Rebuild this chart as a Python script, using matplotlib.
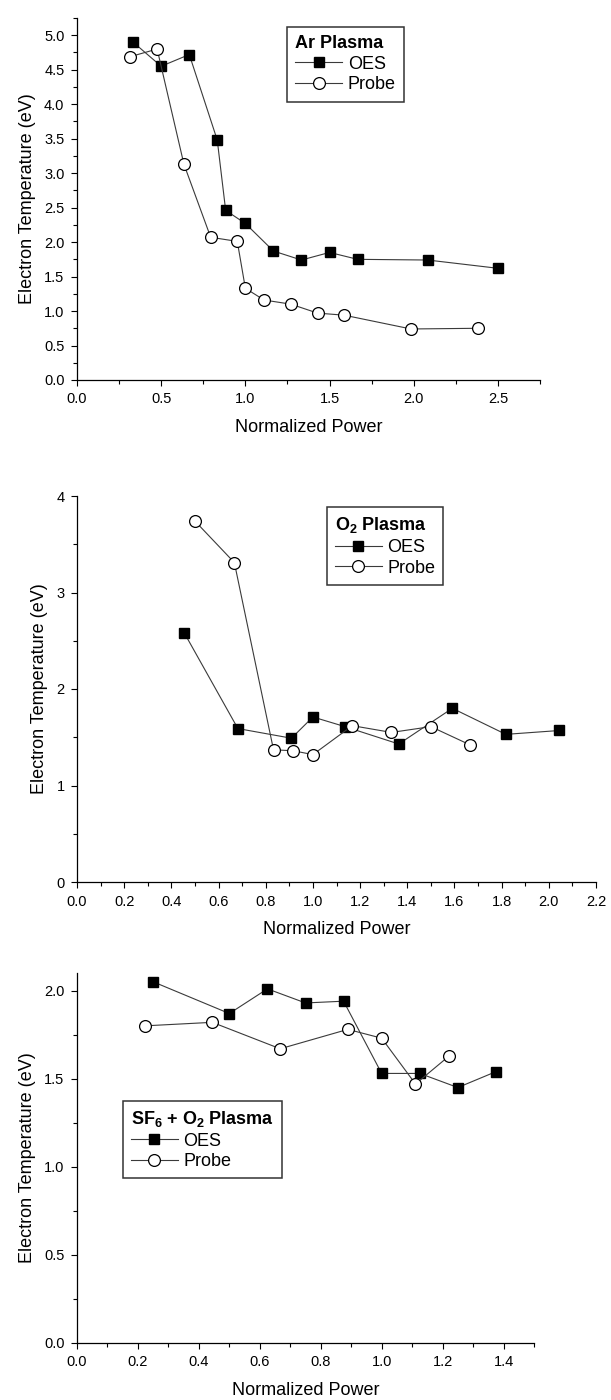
import numpy as np
import matplotlib
matplotlib.use("Agg")
import matplotlib.pyplot as plt
from matplotlib.ticker import MultipleLocator, FormatStrFormatter

plt.rcParams['font.family'] = ['Liberation Sans', 'DejaVu Sans']
plt.rcParams['mathtext.fontset'] = 'custom'
plt.rcParams['mathtext.rm'] = 'Liberation Sans'
plt.rcParams['mathtext.bf'] = 'Liberation Sans:bold'

# Ar plasma
ar_oes_x = [0.333, 0.5, 0.667, 0.833, 0.883, 1.0, 1.167, 1.333, 1.5, 1.667, 2.083, 2.5]
ar_oes_y = [4.90, 4.55, 4.72, 3.48, 2.46, 2.27, 1.87, 1.74, 1.85, 1.75, 1.74, 1.62]
ar_probe_x = [0.317, 0.476, 0.635, 0.794, 0.952, 1.0, 1.111, 1.270, 1.429, 1.587, 1.984, 2.381]
ar_probe_y = [4.69, 4.80, 3.13, 2.07, 2.01, 1.33, 1.16, 1.10, 0.97, 0.94, 0.74, 0.75]

# O2 plasma
o2_oes_x = [0.455, 0.682, 0.909, 1.0, 1.136, 1.364, 1.591, 1.818, 2.045]
o2_oes_y = [2.58, 1.59, 1.49, 1.71, 1.61, 1.43, 1.80, 1.53, 1.57]
o2_probe_x = [0.5, 0.667, 0.833, 0.917, 1.0, 1.167, 1.333, 1.5, 1.667]
o2_probe_y = [3.74, 3.31, 1.37, 1.36, 1.32, 1.62, 1.55, 1.61, 1.42]

# SF6 + O2 plasma
sf_oes_x = [0.25, 0.5, 0.625, 0.75, 0.875, 1.0, 1.125, 1.25, 1.375]
sf_oes_y = [2.05, 1.87, 2.01, 1.93, 1.94, 1.53, 1.53, 1.45, 1.54]
sf_probe_x = [0.222, 0.444, 0.667, 0.889, 1.0, 1.111, 1.222]
sf_probe_y = [1.80, 1.82, 1.67, 1.78, 1.73, 1.47, 1.63]

W, H = 611, 1400
fig = plt.figure(figsize=(W / 100, H / 100), dpi=100)


def px_axes(left, top, right, bottom):
    # axes from pixel box (origin top-left)
    return fig.add_axes([left / W, 1 - bottom / H, (right - left) / W, (bottom - top) / H])


def draw_panel(ax, oes_x, oes_y, probe_x, probe_y, title, xlim, ylim,
               xmaj, xmin, ymaj, ymin, xfmt, yfmt, leg_xy):
    ax.plot(oes_x, oes_y, '-', color='#3a3a3a', lw=0.8, marker='s', ms=7,
            mfc='black', mec='black', label='OES', zorder=3)
    ax.plot(probe_x, probe_y, '-', color='#3a3a3a', lw=0.8, marker='o', ms=8.5,
            mfc='white', mec='black', mew=0.9, label='Probe', zorder=3)
    ax.set_xlim(*xlim)
    ax.set_ylim(*ylim)
    ax.xaxis.set_major_locator(MultipleLocator(xmaj))
    ax.xaxis.set_minor_locator(MultipleLocator(xmin))
    ax.yaxis.set_major_locator(MultipleLocator(ymaj))
    ax.yaxis.set_minor_locator(MultipleLocator(ymin))
    ax.xaxis.set_major_formatter(FormatStrFormatter(xfmt))
    ax.yaxis.set_major_formatter(FormatStrFormatter(yfmt))
    for s in ['top', 'right']:
        ax.spines[s].set_visible(False)
    for s in ['left', 'bottom']:
        ax.spines[s].set_linewidth(0.9)
    ax.tick_params(which='major', direction='out', length=4.5, width=0.8,
                   labelsize=10.5, pad=4.5)
    ax.tick_params(which='minor', direction='out', length=3, width=0.8)
    ax.set_xlabel('Normalized Power', fontsize=13, labelpad=9)
    ax.set_ylabel('Electron Temperature (eV)', fontsize=13, labelpad=6)
    leg = ax.legend(title=title, loc='upper left', bbox_to_anchor=leg_xy,
                    borderaxespad=0, fontsize=13, alignment='left',
                    title_fontproperties={'weight': 'bold', 'size': 13},
                    fancybox=False, framealpha=1, edgecolor='#333333',
                    handlelength=2.6, handletextpad=0.3, labelspacing=0.2,
                    borderpad=0.45)
    leg.get_frame().set_linewidth(1.1)


ax1 = px_axes(77, 18, 540, 380)
draw_panel(ax1, ar_oes_x, ar_oes_y, ar_probe_x, ar_probe_y, 'Ar Plasma',
           (0, 2.75), (0, 5.25), 0.5, 0.25, 0.5, 0.25, '%.1f', '%.1f', (0.454, 0.975))

ax2 = px_axes(77, 496, 596, 882)
draw_panel(ax2, o2_oes_x, o2_oes_y, o2_probe_x, o2_probe_y, r'O$_\mathbf{2}$ Plasma',
           (0, 2.2), (0, 4), 0.2, 0.1, 1, 0.5, '%.1f', '%d', (0.481, 0.971))

ax3 = px_axes(77, 973, 534, 1343)
draw_panel(ax3, sf_oes_x, sf_oes_y, sf_probe_x, sf_probe_y,
           r'SF$_\mathbf{6}$ + O$_\mathbf{2}$ Plasma',
           (0, 1.5), (0, 2.1), 0.2, 0.1, 0.5, 0.25, '%.1f', '%.1f', (0.100, 0.654))

fig.savefig('out.png', dpi=100)
